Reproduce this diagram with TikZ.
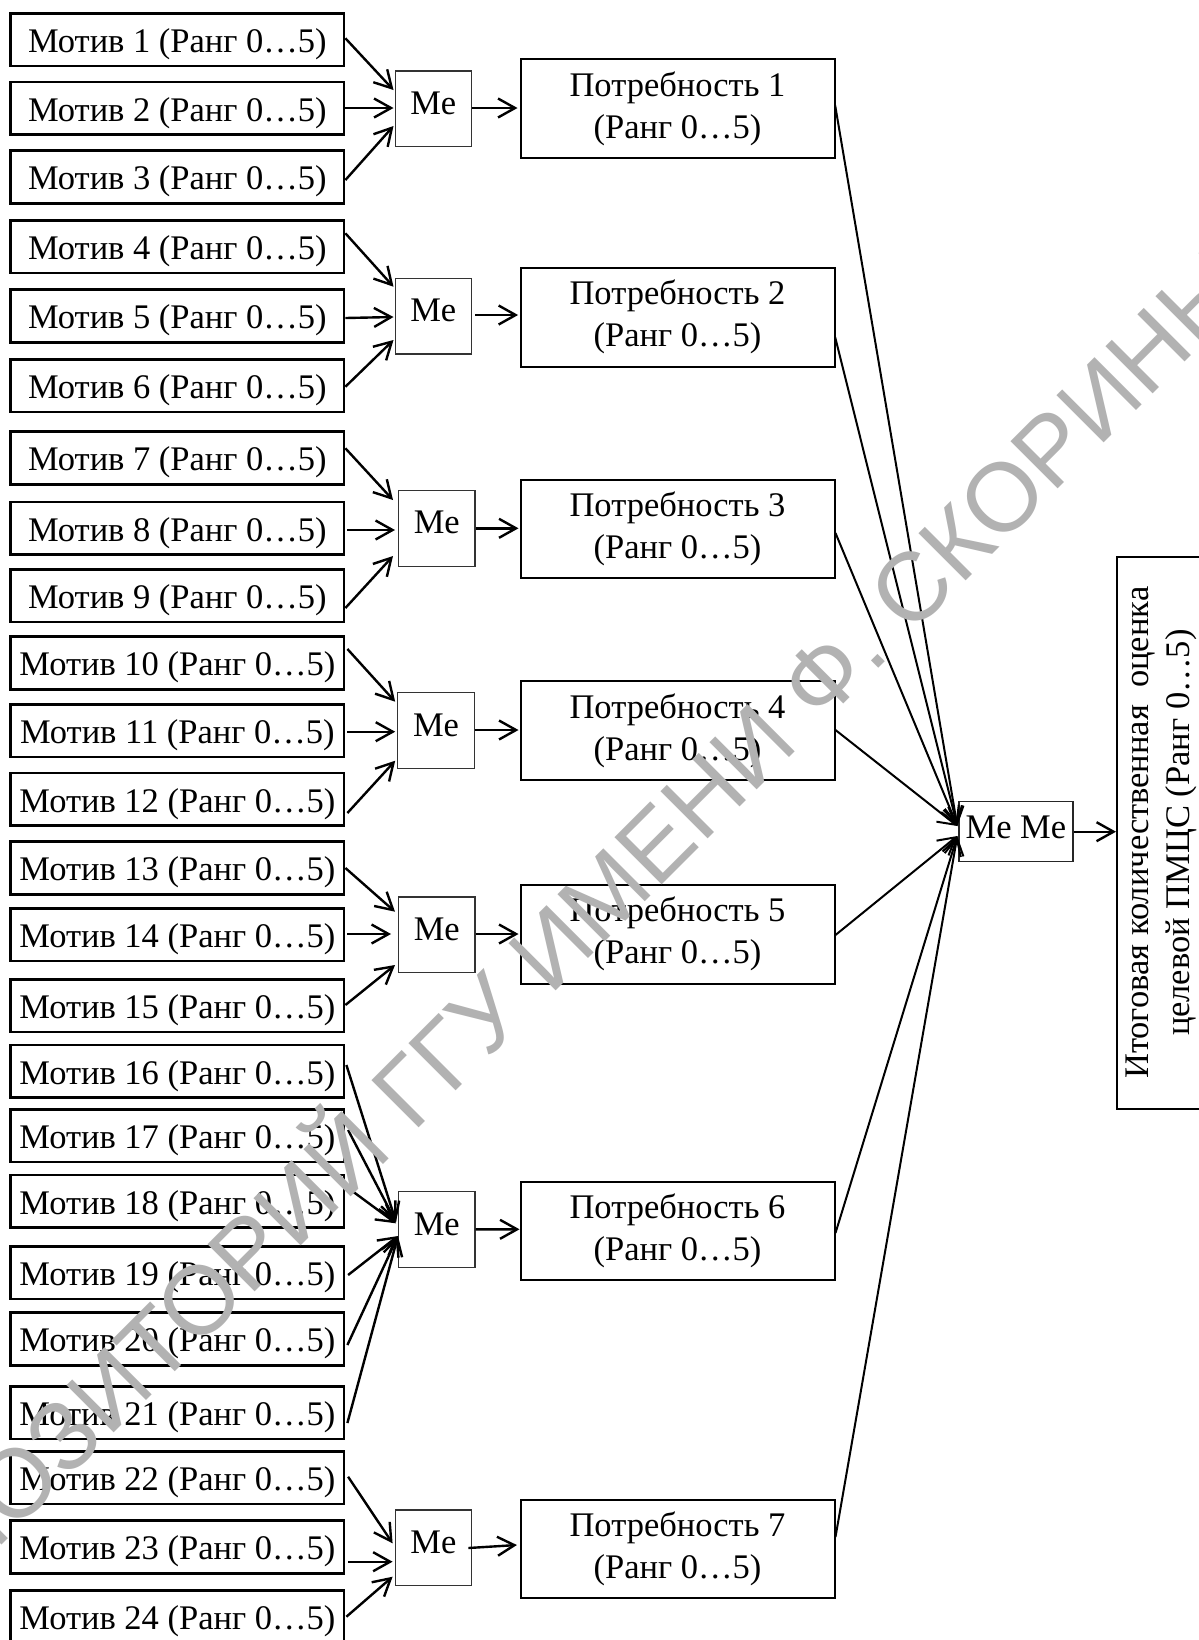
\documentclass[tikz,border=0pt]{standalone}
\usepackage{fontspec}
\setmainfont{Liberation Serif}
\newfontfamily\wmfont{Liberation Sans}
\usetikzlibrary{arrows.meta,calc}

\begin{document}
\begin{tikzpicture}[x=0.5pt,y=-0.5pt,
  every node/.style={font=\fontsize{17.25pt}{21pt}\selectfont, inner sep=0pt},
  motiv/.style={draw, line width=1.3pt, minimum width=166.7pt, minimum height=26.3pt,
                text height=12.8pt, text depth=0pt},
  mebox/.style={draw=black!80, line width=0.6pt, minimum width=38.2pt, minimum height=37.8pt,
                text height=11.4pt, text depth=5.9pt},
  needbox/.style={draw, line width=1pt, minimum width=157pt, minimum height=49.2pt, align=center},
  tip/.style={-{Straight Barb[length=8.5pt,width=9.5pt]}},
  arr/.style={tip, line width=1.2pt},
  link/.style={tip, line width=1pt},
]
\useasboundingbox (0,0) rectangle (1199,1640);
\fill[white] (0,0) rectangle (1199,1640);
\clip (0,0) rectangle (1199,1640);

% motives
\foreach \yc [count=\i] in {39.5,108.3,177,246.7,316,385.7,458,528.3,595.5,663,730.7,799.3,
                            868,934.5,1005.8,1071.3,1135.8,1201.3,1272.7,1339,1412.5,1477.7,1547,1616.5}
  \node[motiv] (m\i) at (177.4,\yc) {Мотив \i{} (Ранг 0…5)};

% medians of the motive groups
\node[mebox] (me1) at (433.3,108.8) {Me};
\node[mebox] (me2) at (433.3,316.2) {Me};
\node[mebox] (me3) at (436.8,528.3) {Me};
\node[mebox] (me4) at (436.0,730.5) {Me};
\node[mebox] (me5) at (436.8,934.7) {Me};
\node[mebox] (me6) at (436.8,1229.5) {Me};
\node[mebox] (me7) at (433.4,1547.8) {Me};

% needs
\foreach \yc [count=\i] in {108.5,317.3,528.7,730.5,934.3,1230.9,1549.2}
  \node[needbox] (p\i) at (677.5,\yc) {Потребность \i\\(Ранг 0…5)};

% overall median and result
\node[draw=black!85, line width=0.7pt, minimum width=56.9pt, minimum height=30pt,
      text height=11.4pt, text depth=4.8pt] (meme) at (1015.9,831.7) {Me Me};
\node[draw, line width=1pt, rotate=90, minimum width=275.9pt, minimum height=44pt,
      align=center, font=\fontsize{17.25pt}{20.5pt}\selectfont] (itog) at (1161,832.7)
  {Итоговая количественная\ \ оценка\\целевой ПМЦС (Ранг 0…5)};

% group 1
\draw[arr] ($(m1.east)+(0,-1.2)$) -- ($(me1.west)+(-1,-18.8)$);
\draw[arr] ($(m2.east)+(0,-0.3)$) -- ($(me1.west)+(-1,-0.8)$);
\draw[arr] ($(m3.east)+(0,3)$)    -- ($(me1.west)+(-1,17.2)$);
% group 2
\draw[arr] ($(m4.east)+(0,-13.4)$) -- ($(me2.west)+(-1,-29.5)$);
\draw[arr] ($(m5.east)+(0,2)$)     -- ($(me2.west)+(-1,0.8)$);
\draw[arr] ($(m6.east)+(0,1)$)     -- ($(me2.west)+(-1,23.8)$);
% group 3
\draw[arr] ($(m7.east)+(0,-9.7)$) -- ($(me3.west)+(-5,-28.3)$);
\draw[arr] ($(m8.east)+(2,1.7)$)  -- ($(me3.west)+(-3,1.7)$);
\draw[arr] ($(m9.east)+(0,12.5)$) -- ($(me3.west)+(-5,27.7)$);
% group 4
\draw[arr] ($(m10.east)+(2,-14)$)  -- ($(me4.west)+(-2,-28.8)$);
\draw[arr] ($(m11.east)+(2,1)$)    -- ($(me4.west)+(-2,1.2)$);
\draw[arr] ($(m12.east)+(2,13.7)$) -- ($(me4.west)+(-2,30.2)$);
% group 5
\draw[arr] (m13.east)               -- ($(me5.west)+(-3,-23)$);
\draw[arr] ($(m14.east)+(2,-0.5)$)  -- ($(me5.west)+(-7,-0.7)$);
\draw[arr] ($(m15.east)+(0,-0.8)$)  -- ($(me5.west)+(-3,30.3)$);
% group 6
\draw[arr] ($(m16.east)+(1,-6.3)$)   -- ($(me6.west)+(-2,-7.5)$);
\draw[arr] ($(m17.east)+(2.7,-5.8)$) -- ($(me6.west)+(-2,-7.5)$);
\draw[arr] ($(m18.east)+(7.7,-9.6)$) -- ($(me6.west)+(-2,-6.2)$);
\draw[arr] ($(m19.east)+(2.7,2.3)$)  -- ($(me6.west)+(0,6.5)$);
\draw[arr] ($(m20.east)+(2,6)$)      -- ($(me6.west)+(0,6.5)$);
\draw[arr] ($(m21.east)+(2,10.5)$)   -- ($(me6.west)+(0,6.5)$);
% group 7
\draw[arr] ($(m22.east)+(2.7,-1)$)   -- ($(me7.west)+(-2,-4.5)$);
\draw[arr] ($(m23.east)+(2.7,14.7)$) -- ($(me7.west)+(-2,13.9)$);
\draw[arr] ($(m24.east)+(1,0.2)$)    -- ($(me7.west)+(-2,28.9)$);

% medians to needs
\draw[arr] ($(me1.east)+(0,-0.8)$) -- ($(p1.west)+(-2,-0.5)$);
\draw[arr] ($(me2.east)+(3,-1.2)$) -- ($(p2.west)+(-1.4,-2.3)$);
\draw[arr] (me3.east) -- ($(p3.west)+(-1,-0.4)$);
\draw[arr] ($(me4.east)+(0.5,-0.5)$) -- ($(p4.west)+(-1,-0.5)$);
\draw[arr] ($(me5.east)+(0,-0.7)$) -- ($(p5.west)+(-1,-0.3)$);
\draw[arr] ($(me6.east)+(0,-0.2)$) -- ($(p6.west)+(0,-1.6)$);
\draw[arr] ($(me7.east)+(-3.8,0.2)$) -- ($(p7.west)+(-2.6,-4.2)$);

% needs to the overall median
\draw[link] ($(p1.east)+(-0.4,-3.5)$) -- ($(meme.west)+(-1,-5.7)$);
\draw[link] ($(p2.east)+(-0.4,19.7)$) -- ($(meme.west)+(-1,-5.7)$);
\draw[link] ($(p3.east)+(0,4.3)$)     -- ($(meme.west)+(-1,-5.7)$);
\draw[link] ($(p4.east)+(0,-0.5)$)    -- ($(meme.west)+(-1,-5.7)$);
\draw[link] ($(p5.east)+(0,0.7)$)     -- ($(meme.west)+(-1,4.3)$);
\draw[link] ($(p6.east)+(0,2.1)$)     -- ($(meme.west)+(-1,4.3)$);
\draw[link] ($(p7.east)+(0,-12.2)$)   -- ($(meme.west)+(-1,4.3)$);

% result
\draw[arr] (meme.east) -- (meme.east -| itog.north);

% repository stamp
\node[font=\wmfont\fontsize{48.5pt}{48.5pt}\selectfont, text=black!30, rotate=45,
      anchor=base west] (stamp) at (-127.5,1674.5) {РЕПОЗИТОРИЙ ГГУ ИМЕНИ Ф. СКОРИНЫ};
\end{tikzpicture}
\end{document}
